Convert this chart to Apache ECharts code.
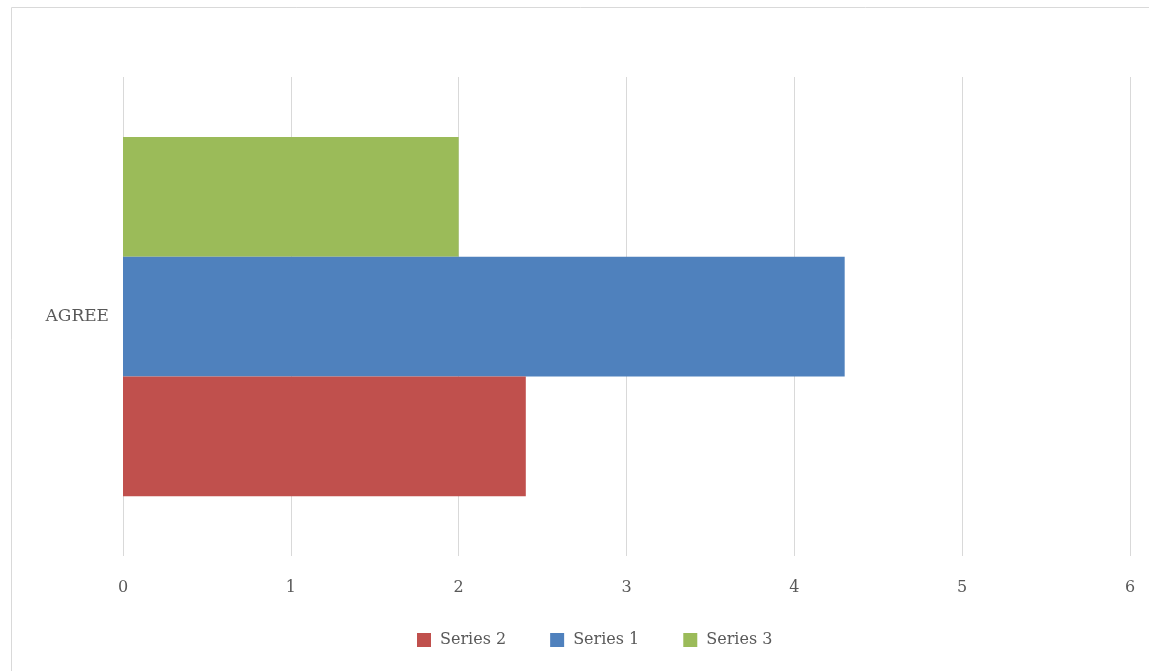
<!DOCTYPE html>
<html>
<head>
<meta charset="utf-8">
<script src="https://cdn.jsdelivr.net/npm/echarts@6/dist/echarts.min.js"></script>
<style>html,body{margin:0;padding:0;background:#fff}#c{width:1149px;height:671px}</style>
</head>
<body>
<div id="c"></div>
<script>
var categories = ['AGREE'];
var seriesNames = ['Series 2', 'Series 1', 'Series 3'];
var series2 = [2.4];
var series1 = [4.3];
var series3 = [2.0];
var colors = ['#C0504D', '#4F81BD', '#9BBB59'];
var xTicks = [0, 6, 1];

var font = '"DejaVu Serif", serif';
var chart = echarts.init(document.getElementById('c'));
var values = [series2, series1, series3];
var drawOrder = [2, 1, 0];
chart.setOption({
  animation: false,
  textStyle: {fontFamily: font},
  graphic: [{
    type: 'rect',
    shape: {x: 11.5, y: 7.5, width: 1160, height: 700},
    style: {fill: 'none', stroke: '#d9d9d9', lineWidth: 1},
    silent: true
  }],
  grid: {left: 123, right: 19, top: 77, bottom: 115},
  legend: {
    left: 412, top: 627,
    itemWidth: 14, itemHeight: 14, itemGap: 44,
    icon: 'rect',
    textStyle: {color: '#595959', fontSize: 16, fontFamily: font, padding: [0,0,0,4]},
    data: seriesNames
  },
  xAxis: {
    type: 'value', min: xTicks[0], max: xTicks[1], interval: xTicks[2],
    axisLine: {show: false}, axisTick: {show: false},
    splitLine: {lineStyle: {color: '#d9d9d9', width: 1}},
    axisLabel: {color: '#595959', fontSize: 16, fontFamily: font, margin: 24}
  },
  yAxis: {
    type: 'category', data: categories,
    axisLine: {show: false}, axisTick: {show: false},
    axisLabel: {color: '#595959', fontSize: 17, fontFamily: font, margin: 14}
  },
  series: drawOrder.map(function(i){
    return {
      name: seriesNames[i], type: 'bar', data: values[i],
      itemStyle: {color: colors[i]},
      barGap: '0%', barCategoryGap: '25%'
    };
  })
});
</script>
</body>
</html>
